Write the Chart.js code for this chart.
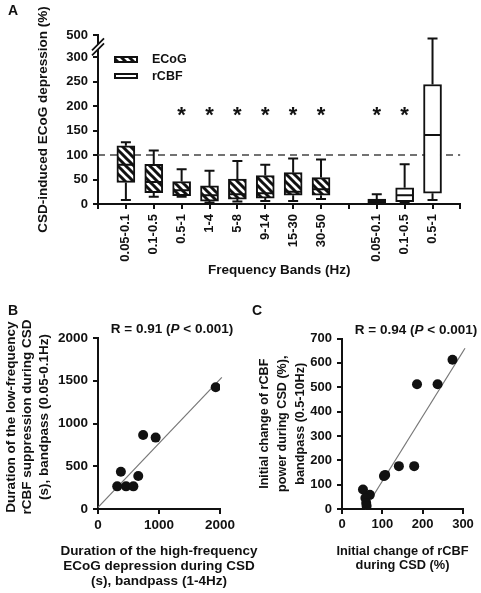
<!DOCTYPE html>
<html>
<head>
<meta charset="utf-8">
<script src="https://cdn.jsdelivr.net/npm/chart.js@4.4.1/dist/chart.umd.min.js"></script>
<style>
  html, body { margin: 0; padding: 0; background: #fff; }
  #wrap { position: relative; width: 481px; height: 593px; overflow: hidden; }
  canvas { position: absolute; }
</style>
</head>
<body>
<div id="wrap">
  <canvas id="chartA" width="481" height="300" style="left:0;top:0"></canvas>
  <canvas id="chartB" width="270" height="293" style="left:0;top:300px"></canvas>
  <canvas id="chartC" width="241" height="293" style="left:240px;top:300px"></canvas>
</div>
<script>
// ---- A: box plots (%), ECoG bands then rCBF bands
const ecogBands = ['0.05-0.1', '0.1-0.5', '0.5-1', '1-4', '5-8', '9-14', '15-30', '30-50'];
const ecogMin = [8, 15, 15, 3, 5, 6, 6, 10];
const ecogQ1  = [44, 23, 17, 6, 10, 12, 18, 18];
const ecogMed = [80, 45, 28, 18, 20, 22, 25, 30];
const ecogQ3  = [119, 81, 46, 37, 51, 58, 64, 54];
const ecogMax = [126, 109, 71, 68, 88, 80, 93, 91];

const rcbfBands = ['0.05-0.1', '0.1-0.5', '0.5-1'];
const rcbfMin = [1, 3, 8];
const rcbfQ1  = [2, 5, 22];
const rcbfMed = [6, 18, 141];
const rcbfQ3  = [10, 33, 244];
const rcbfMax = [20, 81, 469];

const significant = ['ecog:0.5-1', 'ecog:1-4', 'ecog:5-8', 'ecog:9-14', 'ecog:15-30', 'ecog:30-50', 'rcbf:0.05-0.1', 'rcbf:0.1-0.5'];
const yTicksA = [0, 50, 100, 150, 200, 250, 300, 500];

// ---- B: durations (s)
const bEcogDur = [1930, 740, 945, 375, 660, 315, 460, 580];
const bRcbfDur = [1425, 865, 835, 435, 385, 265, 265, 265];
const bFitX = [0, 2030];
const bFitY = [20, 1540];

// ---- C: initial change (%)
const cRcbf  = [274, 186, 237, 141, 179, 104, 107, 52, 69, 58, 60, 61];
const cPower = [613, 512, 512, 176, 176, 135, 140, 80, 58, 45, 25, 12];
const cFitX = [57, 305];
const cFitY = [0, 660];

const INK = '#111';
const FONT = "'Liberation Sans', Arial, sans-serif";
Chart.defaults.font.family = FONT;
Chart.defaults.font.weight = 'bold';
Chart.defaults.color = INK;
Chart.defaults.animation = false;

// broken axis: 300..500 squeezed into 300..345
const BREAK_AT = 300, BREAK_REAL_TOP = 500, BREAK_DRAWN_TOP = 345;
function toAxis(v) {
    return v <= BREAK_AT ? v : BREAK_AT + (v - BREAK_AT) * (BREAK_DRAWN_TOP - BREAK_AT) / (BREAK_REAL_TOP - BREAK_AT);
}

const ecogPos = ecogBands.map((b, i) => i + 1);
const rcbfPos = rcbfBands.map((b, i) => i + ecogBands.length + 2);
const xLabelAt = {};
ecogBands.forEach((b, i) => { xLabelAt[ecogPos[i]] = b; });
rcbfBands.forEach((b, i) => { xLabelAt[rcbfPos[i]] = b; });

function makeHatch(ctx) {
    const s = 8;
    const c = document.createElement('canvas');
    c.width = s; c.height = s;
    const g = c.getContext('2d');
    g.fillStyle = '#fff';
    g.fillRect(0, 0, s, s);
    g.strokeStyle = INK;
    g.lineWidth = 3;
    g.beginPath();
    g.moveTo(-2, -2); g.lineTo(s + 2, s + 2);
    g.moveTo(-2, s - 2); g.lineTo(2, s + 2);
    g.moveTo(s - 2, -2); g.lineTo(s + 2, 2);
    g.stroke();
    return ctx.createPattern(c, 'repeat');
}

const axisStyle = {
    border: { color: INK, width: 2 },
    grid: { display: true, drawOnChartArea: false, color: INK, lineWidth: 2, tickLength: 5 }
};

// draw text made of plain / italic pieces, centred on x
function drawRichText(ctx, parts, x, y, size) {
    ctx.save();
    ctx.textBaseline = 'middle';
    ctx.fillStyle = INK;
    let total = 0;
    parts.forEach(p => {
        ctx.font = (p.italic ? 'italic ' : '') + 'bold ' + size + 'px ' + FONT;
        total += ctx.measureText(p.text).width;
    });
    let cx = x - total / 2;
    parts.forEach(p => {
        ctx.font = (p.italic ? 'italic ' : '') + 'bold ' + size + 'px ' + FONT;
        ctx.textAlign = 'left';
        ctx.fillText(p.text, cx, y);
        cx += ctx.measureText(p.text).width;
    });
    ctx.restore();
}

// multi-line title, rotated for the y axis when vertical is true
function drawTitle(ctx, lines, x, y, size, step, vertical) {
    ctx.save();
    ctx.font = 'bold ' + size + 'px ' + FONT;
    ctx.fillStyle = INK;
    ctx.textAlign = 'center';
    ctx.textBaseline = 'middle';
    ctx.translate(x, y);
    if (vertical) ctx.rotate(-Math.PI / 2);
    lines.forEach((t, i) => ctx.fillText(t, 0, i * step));
    ctx.restore();
}

function panelLetter(ctx, letter, x, y) {
    ctx.save();
    ctx.font = 'bold 14px ' + FONT;
    ctx.fillStyle = INK;
    ctx.textAlign = 'left';
    ctx.textBaseline = 'alphabetic';
    ctx.fillText(letter, x, y);
    ctx.restore();
}

// ================= A =================
const ctxA = document.getElementById('chartA').getContext('2d');
const hatch = makeHatch(ctxA);

const boxExtras = {
    id: 'boxExtras',
    afterDatasetsDraw(chart) {
        const { ctx, scales: { x, y } } = chart;
        const half = 9, cap = 5;
        ctx.save();
        ctx.strokeStyle = INK;
        ctx.lineWidth = 2;
        const groups = [
            [ecogPos, ecogMin, ecogMed, ecogQ1, ecogQ3, ecogMax],
            [rcbfPos, rcbfMin, rcbfMed, rcbfQ1, rcbfQ3, rcbfMax]
        ];
        groups.forEach(([pos, mn, md, q1, q3, mx]) => {
            pos.forEach((p, i) => {
                const px = x.getPixelForValue(p);
                const yMin = y.getPixelForValue(toAxis(mn[i]));
                const yMax = y.getPixelForValue(toAxis(mx[i]));
                const yQ1 = y.getPixelForValue(toAxis(q1[i]));
                const yQ3 = y.getPixelForValue(toAxis(q3[i]));
                const yMd = y.getPixelForValue(toAxis(md[i]));
                ctx.beginPath();
                ctx.moveTo(px, yQ3); ctx.lineTo(px, yMax);
                ctx.moveTo(px - cap, yMax); ctx.lineTo(px + cap, yMax);
                ctx.moveTo(px, yQ1); ctx.lineTo(px, yMin);
                ctx.moveTo(px - cap, yMin); ctx.lineTo(px + cap, yMin);
                ctx.moveTo(px - half + 1, yMd); ctx.lineTo(px + half - 1, yMd);
                ctx.stroke();
            });
        });

        // significance marks
        ctx.fillStyle = INK;
        ctx.font = 'bold 22px ' + FONT;
        ctx.textAlign = 'center';
        ctx.textBaseline = 'alphabetic';
        const yStar = y.getPixelForValue(192);
        significant.forEach(key => {
            const [grp, band] = key.split(':');
            const p = grp === 'ecog' ? ecogPos[ecogBands.indexOf(band)] : rcbfPos[rcbfBands.indexOf(band)];
            ctx.fillText('*', x.getPixelForValue(p), yStar + 12);
        });

        // axis break
        const bx = chart.chartArea.left;
        const by = y.getPixelForValue(322);
        ctx.fillStyle = '#fff';
        ctx.beginPath();
        ctx.moveTo(bx - 6, by + 4); ctx.lineTo(bx + 6, by - 8);
        ctx.lineTo(bx + 6, by - 3); ctx.lineTo(bx - 6, by + 9);
        ctx.closePath();
        ctx.fill();
        ctx.lineWidth = 1.8;
        ctx.beginPath();
        ctx.moveTo(bx - 6, by + 4); ctx.lineTo(bx + 6, by - 8);
        ctx.moveTo(bx - 6, by + 9); ctx.lineTo(bx + 6, by - 3);
        ctx.stroke();

        // legend
        const lx = 115, lw = 22;
        ctx.lineWidth = 2;
        ctx.fillStyle = hatch;
        ctx.fillRect(lx, 57, lw, 5);
        ctx.strokeRect(lx, 57, lw, 5);
        ctx.fillStyle = '#fff';
        ctx.fillRect(lx, 74, lw, 4);
        ctx.strokeRect(lx, 74, lw, 4);
        ctx.fillStyle = INK;
        ctx.font = 'bold 12.5px ' + FONT;
        ctx.textAlign = 'left';
        ctx.textBaseline = 'middle';
        ctx.fillText('ECoG', 152, 60);
        ctx.fillText('rCBF', 152, 77);
        ctx.restore();
        panelLetter(ctx, 'A', 8, 15);
    }
};

new Chart(ctxA, {
    type: 'bar',
    data: {
        datasets: [
            {
                label: 'ECoG',
                data: ecogPos.map((p, i) => ({ x: p, y: [toAxis(ecogQ1[i]), toAxis(ecogQ3[i])] })),
                backgroundColor: hatch,
                borderColor: INK,
                borderWidth: 2,
                borderSkipped: false,
                barThickness: 18,
                grouped: false
            },
            {
                label: 'rCBF',
                data: rcbfPos.map((p, i) => ({ x: p, y: [toAxis(rcbfQ1[i]), toAxis(rcbfQ3[i])] })),
                backgroundColor: '#fff',
                borderColor: INK,
                borderWidth: 2,
                borderSkipped: false,
                barThickness: 18,
                grouped: false
            },
            {
                type: 'line',
                label: 'reference',
                data: [{ x: 0, y: 100 }, { x: ecogBands.length + rcbfBands.length + 2, y: 100 }],
                borderColor: '#444',
                borderWidth: 1.5,
                borderDash: [7, 5],
                pointRadius: 0,
                order: 5
            }
        ]
    },
    plugins: [boxExtras],
    options: {
        responsive: false,
        layout: { padding: { left: 0, top: 35, right: 18, bottom: 0 } },
        plugins: { legend: { display: false }, tooltip: { enabled: false } },
        scales: {
            x: {
                type: 'linear',
                min: 0,
                max: ecogBands.length + rcbfBands.length + 2,
                offset: false,
                ...axisStyle,
                grid: { ...axisStyle.grid, offset: false },
                afterFit: s => { s.height = 96; },
                afterBuildTicks: s => {
                    s.ticks = [];
                    for (let v = s.min; v <= s.max; v++) s.ticks.push({ value: v });
                },
                ticks: {
                    autoSkip: false,
                    minRotation: 90,
                    maxRotation: 90,
                    padding: 5,
                    font: { size: 13 },
                    callback: v => xLabelAt[v] || ''
                },
                title: {
                    display: true,
                    text: 'Frequency Bands (Hz)',
                    font: { size: 13.5, lineHeight: 1.2 },
                    padding: { top: 0, bottom: 22 }
                }
            },
            y: {
                min: 0,
                max: BREAK_DRAWN_TOP,
                ...axisStyle,
                afterFit: s => { s.width = 98; },
                afterBuildTicks: s => { s.ticks = yTicksA.map(v => ({ value: toAxis(v) })); },
                ticks: {
                    padding: 5,
                    font: { size: 13 },
                    callback: v => (v > BREAK_AT ? String(BREAK_REAL_TOP) : String(v))
                },
                title: {
                    display: true,
                    text: 'CSD-induced ECoG depression (%)',
                    font: { size: 13.5, lineHeight: 1.2 },
                    padding: { top: 35, bottom: 0 }
                }
            }
        }
    }
});

// ================= B =================
const ctxB = document.getElementById('chartB').getContext('2d');
const extrasB = {
    id: 'extrasB',
    afterDraw(chart) {
        const ctx = chart.ctx;
        const area = chart.chartArea;
        panelLetter(ctx, 'B', 8, 15);
        drawRichText(ctx, [{ text: 'R = 0.91 (' }, { text: 'P', italic: true }, { text: ' < 0.001)' }], 172, 29, 13.5);
        drawTitle(ctx, ['Duration of the low-frequency', 'rCBF suppression during CSD', '(s), bandpass (0.05-0.1Hz)'],
            11, 117, 13.5, 16.5, true);
        drawTitle(ctx, ['Duration of the high-frequency', 'ECoG depression during CSD', '(s), bandpass (1-4Hz)'],
            (area.left + area.right) / 2, 251, 13.5, 15.2, false);
    }
};

new Chart(ctxB, {
    type: 'scatter',
    data: {
        datasets: [
            {
                label: 'animals',
                data: bEcogDur.map((v, i) => ({ x: v, y: bRcbfDur[i] })),
                pointRadius: 5,
                backgroundColor: INK,
                borderWidth: 0
            },
            {
                label: 'fit',
                data: bFitX.map((v, i) => ({ x: v, y: bFitY[i] })),
                showLine: true,
                borderColor: '#777',
                borderWidth: 1.2,
                pointRadius: 0,
                clip: false
            }
        ]
    },
    plugins: [extrasB],
    options: {
        responsive: false,
        layout: { padding: { left: 0, top: 38, right: 50, bottom: 0 } },
        plugins: { legend: { display: false }, tooltip: { enabled: false } },
        scales: {
            x: {
                min: 0, max: 2000,
                ...axisStyle,
                afterFit: s => { s.height = 84; },
                ticks: { stepSize: 1000, padding: 3, font: { size: 13.5 }, callback: v => String(v) }
            },
            y: {
                min: 0, max: 2000,
                ...axisStyle,
                afterFit: s => { s.width = 98; },
                ticks: { stepSize: 500, padding: 5, font: { size: 13.5 }, callback: v => String(v) }
            }
        }
    }
});

// ================= C =================
const ctxC = document.getElementById('chartC').getContext('2d');
const extrasC = {
    id: 'extrasC',
    afterDraw(chart) {
        const ctx = chart.ctx;
        const area = chart.chartArea;
        panelLetter(ctx, 'C', 12, 15);
        drawRichText(ctx, [{ text: 'R = 0.94 (' }, { text: 'P', italic: true }, { text: ' < 0.001)' }], 176, 30, 13.5);
        drawTitle(ctx, ['Initial change of rCBF', 'during CSD (%)'],
            (area.left + area.right) / 2, 251, 12.8, 14.5, false);
    }
};

new Chart(ctxC, {
    type: 'scatter',
    data: {
        datasets: [
            {
                label: 'animals',
                data: cRcbf.map((v, i) => ({ x: v, y: cPower[i] })),
                pointRadius: 5,
                backgroundColor: INK,
                borderWidth: 0
            },
            {
                label: 'fit',
                data: cFitX.map((v, i) => ({ x: v, y: cFitY[i] })),
                showLine: true,
                borderColor: '#777',
                borderWidth: 1.2,
                pointRadius: 0,
                clip: false
            }
        ]
    },
    plugins: [extrasC],
    options: {
        responsive: false,
        layout: { padding: { left: 0, top: 38.5, right: 18, bottom: 0 } },
        plugins: { legend: { display: false }, tooltip: { enabled: false } },
        scales: {
            x: {
                min: 0, max: 300,
                ...axisStyle,
                afterFit: s => { s.height = 84; },
                ticks: { stepSize: 100, padding: 3, font: { size: 13 }, callback: v => String(v) }
            },
            y: {
                min: 0, max: 700,
                ...axisStyle,
                afterFit: s => { s.width = 102; },
                ticks: { stepSize: 100, padding: 5, font: { size: 13 }, callback: v => String(v) },
                title: {
                    display: true,
                    text: ['Initial change of rCBF', 'power during CSD (%),', 'bandpass (0.5-10Hz)'],
                    font: { size: 12.6, lineHeight: 1.41 },
                    padding: { top: 16, bottom: 0 }
                }
            }
        }
    }
});
</script>
</body>
</html>
